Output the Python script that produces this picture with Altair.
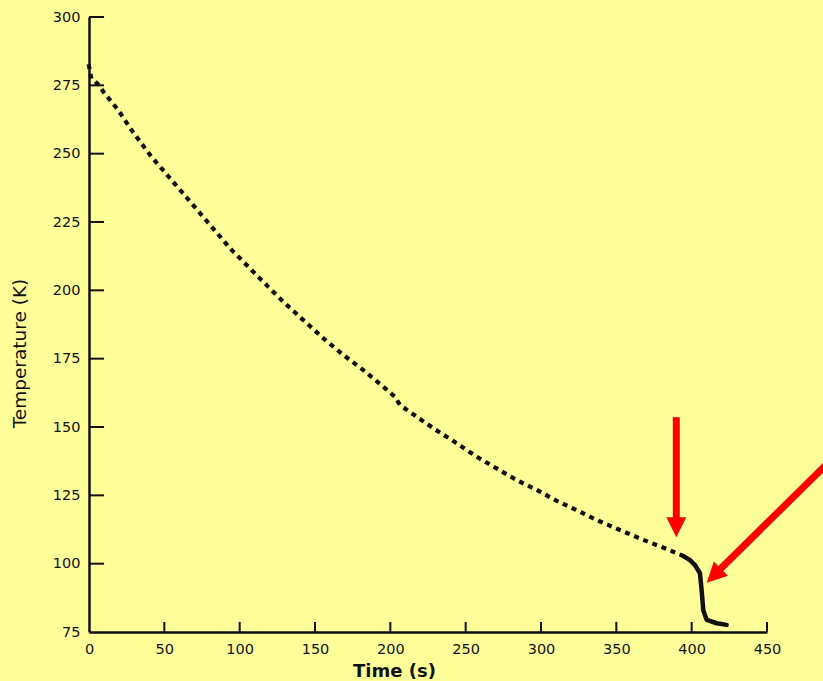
import altair as alt
import pandas as pd

# ---- cooling curve (time in s, temperature in K) ----
dotted_time = [0, 1.5, 6, 10, 19.3, 28.1, 41.4, 54.7, 68, 81.3, 94.6, 102.4,
               115.5, 128.8, 142.1, 155.4, 168.7, 181.9, 195.2, 203, 206.3,
               217.4, 229.5, 241.7, 258.3, 271.6, 283.8, 297.1, 310.4, 323.6,
               336.9, 352.4, 367.9, 383.4, 394.4]
dotted_temp = [282, 277.6, 275.4, 272.3, 266, 258.7, 248.9, 240.4, 231.9,
               223.3, 214.8, 210.5, 203.2, 195.9, 189.2, 182.5, 176.4, 170.9,
               164.8, 161.1, 158.1, 153.8, 149.2, 144.9, 138.8, 134.5, 130.6,
               127, 123, 119.6, 116, 112.3, 108.7, 105.4, 102.8]
solid_time = [394.4, 398.9, 402.2, 405.5, 406.6, 407.7, 410, 416.6, 423.2]
solid_temp = [102.8, 101.3, 99.5, 96.5, 90.4, 83, 79.4, 78.2, 77.6]

# ---- axes ----
x_labels = [0, 50, 100, 150, 200, 250, 300, 350, 400, 450]
y_labels = [75, 100, 125, 150, 175, 200, 225, 250, 275, 300]
x_tick_marks = [50, 100, 150, 200, 250, 300, 350, 400, 450]
y_tick_marks = [100, 125, 150, 175, 200, 225, 250, 275, 300]

# ---- red annotation arrows (data units) ----
arrow_v_shaft = {"time": [389.8], "temp": [153.6], "time2": [389.8], "temp2": [116.0]}
arrow_v_head = {"time": [389.8], "temp": [113.3]}
arrow_d_shaft = {"time": [498.5], "temp": [141.2], "time2": [418.0], "temp2": [97.5]}
arrow_d_head = {"time": [414.7], "temp": [95.6]}

INK = "#111111"
RED = "#FF0000"
BG = "#FFFF99"
FONT = "DejaVu Sans"
XT = "Time (s)"
YT = "Temperature (K)"

xscale = alt.Scale(domain=[0, 450], nice=False, zero=False)
yscale = alt.Scale(domain=[75, 300], nice=False, zero=False)

xaxis = alt.Axis(values=x_labels, title=XT, format="d", grid=False,
                 labelFont=FONT, labelFontSize=14.5, labelColor=INK,
                 labelPadding=21, labelBaseline="alphabetic", labelFlush=False,
                 labelOverlap=False, tickSize=0, domainColor=INK, domainWidth=2.5,
                 titleFont=FONT, titleFontSize=18, titleFontWeight="bold",
                 titleColor=INK, titleX=305, titleY=44.7, titleAlign="center",
                 titleBaseline="alphabetic")
yaxis = alt.Axis(values=y_labels, title=YT, format="d", grid=False,
                 labelFont=FONT, labelFontSize=14.5, labelColor=INK,
                 labelPadding=9, labelFlush=False, labelOverlap=False,
                 tickSize=0, domainColor=INK, domainWidth=2.5,
                 titleFont=FONT, titleFontSize=18.5, titleFontWeight="normal",
                 titleColor=INK, titleX=-64, titleY=336, titleAngle=270,
                 titleAlign="center", titleBaseline="alphabetic")

dotted_df = pd.DataFrame({"time": dotted_time, "temp": dotted_temp})
solid_df = pd.DataFrame({"time": solid_time, "temp": solid_temp})


def X(field="time"):
    return alt.X(f"{field}:Q", title=XT)


def Y(field="temp"):
    return alt.Y(f"{field}:Q", title=YT)


dotted = alt.Chart(dotted_df).mark_line(
    color=INK, strokeWidth=4.2, strokeDash=[0.8, 9], strokeCap="square"
).encode(
    x=alt.X("time:Q", scale=xscale, axis=xaxis, title=XT),
    y=alt.Y("temp:Q", scale=yscale, axis=yaxis, title=YT),
    order="time:Q",
)

solid = alt.Chart(solid_df).mark_line(
    color=INK, strokeWidth=4.5, strokeCap="round", strokeJoin="round"
).encode(x=X(), y=Y(), order="time:Q")

ytick_df = pd.DataFrame({"time": [0] * len(y_tick_marks), "time2": [10] * len(y_tick_marks),
                         "temp": y_tick_marks})
yticks = alt.Chart(ytick_df).mark_rule(color=INK, strokeWidth=2).encode(
    x=X(), x2="time2:Q", y=Y()
)

xtick_df = pd.DataFrame({"time": x_tick_marks, "temp": [75] * len(x_tick_marks),
                         "temp2": [78.7] * len(x_tick_marks)})
xticks = alt.Chart(xtick_df).mark_rule(color=INK, strokeWidth=2).encode(
    x=X(), y=Y(), y2="temp2:Q"
)


def shaft(d):
    return alt.Chart(pd.DataFrame(d)).mark_rule(color=RED, strokeWidth=7).encode(
        x=X(), y=Y(), x2="time2:Q", y2="temp2:Q")


def head(d, angle):
    return alt.Chart(pd.DataFrame(d)).mark_point(
        shape="M-1,-1L1,-1L0,1Z", filled=True, size=400, color=RED,
        opacity=1, strokeWidth=0, angle=angle
    ).encode(x=X(), y=Y())


chart = alt.layer(
    dotted, solid, yticks, xticks,
    shaft(arrow_v_shaft), head(arrow_v_head, 0),
    shaft(arrow_d_shaft), head(arrow_d_head, 45),
).properties(
    width=678, height=615,
    autosize=alt.AutoSizeParams(type="none"),
    padding={"left": 89, "top": 17, "right": 56, "bottom": 49},
    background=BG,
).configure_view(strokeWidth=0)

chart.save("out.html", embed_options={"renderer": "svg", "actions": False})
